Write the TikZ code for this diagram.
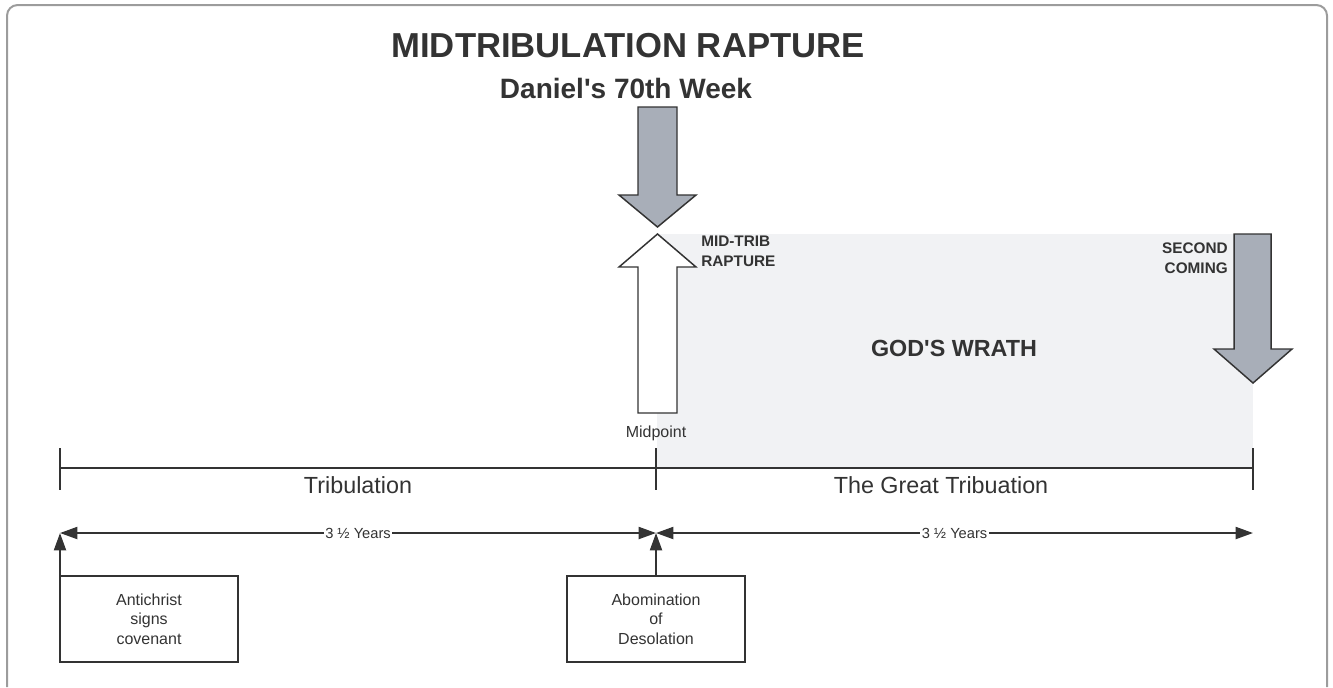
\documentclass[tikz,border=0pt]{standalone}
\usepackage{fontspec}
\setmainfont{Liberation Sans}
\usetikzlibrary{arrows.meta}
\definecolor{inkgray}{HTML}{333333}
\definecolor{arrowgray}{HTML}{A8AEB8}
\definecolor{wrathgray}{HTML}{F1F2F4}
\definecolor{framegray}{HTML}{9C9C9C}

\begin{document}
\begin{tikzpicture}[x=0.75pt,y=0.75pt,yscale=-1,xscale=1,
	every node/.style={text=inkgray,inner sep=0.75pt},
	blockarrow/.style={draw=inkgray,line width=1.1pt,line join=miter},
	eventbox/.style={draw=inkgray,line width=1.2pt,minimum width=133.5pt,minimum height=64.5pt,align=center,font=\fontsize{12}{14.6}\selectfont},
	timeline/.style={draw=inkgray,line width=2.2pt},
	span/.style={draw=inkgray,line width=1.5pt,{Triangle[length=13pt,width=9pt]}-{Triangle[length=13pt,width=9pt]}},
	link/.style={draw=inkgray,line width=1.5pt,-{Triangle[length=13pt,width=9pt]}},
	yearlabel/.style={fill=white,inner sep=1pt,font=\fontsize{11}{13}\selectfont},
	boldlabel/.style={align=left,font=\bfseries\fontsize{11.5}{15}\selectfont}]
	\useasboundingbox (0,0) rectangle (1333,687);

	%Shape: Frame
	\draw [framegray,line width=1.5pt,rounded corners=8pt] (7,687) -- (7,5) -- (1327,5) -- (1327,687) ;
	%Shape: Rectangle (wrath)
	\fill [wrathgray] (657,234) rectangle (1253,468) ;

	%Shape: Block Arrow (down, midpoint)
	\draw [blockarrow,fill=arrowgray] (638,107) -- (677,107) -- (677,195) -- (696,195) -- (657.5,227) -- (619,195) -- (638,195) -- cycle ;
	%Shape: Block Arrow (up, rapture)
	\draw [blockarrow,fill=white] (657.5,234) -- (696,267) -- (677,267) -- (677,413) -- (638,413) -- (638,267) -- (619,267) -- cycle ;
	%Shape: Block Arrow (down, second coming)
	\draw [blockarrow,fill=arrowgray] (1234,234) -- (1271,234) -- (1271,349) -- (1292,349) -- (1253,383) -- (1214,349) -- (1234,349) -- cycle ;

	%Straight Lines (timeline)
	\coordinate (tl) at (60,468) ;
	\coordinate (tm) at (656,468) ;
	\coordinate (tr) at (1253,468) ;
	\draw [timeline] (tl) -- (tr) ;
	\foreach \t in {tl,tm,tr}
		\draw [timeline] ([yshift=-15pt]\t) -- ([yshift=16.5pt]\t) ;

	%Straight Lines (years)
	\coordinate (yl) at (60,533) ;
	\coordinate (ym) at (656,533) ;
	\coordinate (yr) at (1253,533) ;
	\draw [span] (yl) -- node [yearlabel] {3 ½ Years} (ym) ;
	\draw [span] (ym) -- node [yearlabel] {3 ½ Years} (yr) ;

	% Text Node
	\node [eventbox] (covenant) at (149,619) {Antichrist\\signs\\covenant} ;
	% Text Node
	\node [eventbox] (abomination) at (656,619) {Abomination\\of\\Desolation} ;
	\draw [link] (yl |- covenant.north) -- (yl) ;
	\draw [link] (abomination.north) -- (ym) ;

	% Text Node
	\node [anchor=base,font=\bfseries\fontsize{26}{31}\selectfont] (title) at (628,57) {MIDTRIBULATION RAPTURE} ;
	% Text Node
	\node [anchor=base,font=\bfseries\fontsize{21}{25}\selectfont] (week) at (626,98) {Daniel\textquotesingle s 70th Week} ;
	% Text Node
	\node [anchor=base west,boldlabel] (midtrib) at (700,266) {MID-TRIB\\RAPTURE} ;
	% Text Node
	\node [anchor=base east,boldlabel,align=right] (second) at (1229,273) {SECOND\\COMING} ;
	% Text Node
	\node [anchor=base,font=\bfseries\fontsize{17.5}{21}\selectfont] (wrath) at (954,356) {GOD\textquotesingle S WRATH} ;
	% Text Node
	\node [anchor=base,font=\fontsize{12}{14}\selectfont] (midpoint) at (656,437) {Midpoint} ;
	% Text Node
	\node [anchor=base,font=\fontsize{17.5}{21}\selectfont] (trib) at (358,493) {Tribulation} ;
	% Text Node
	\node [anchor=base,font=\fontsize{17.5}{21}\selectfont] (greattrib) at (941,493) {The Great Tribuation} ;

\end{tikzpicture}
\end{document}
